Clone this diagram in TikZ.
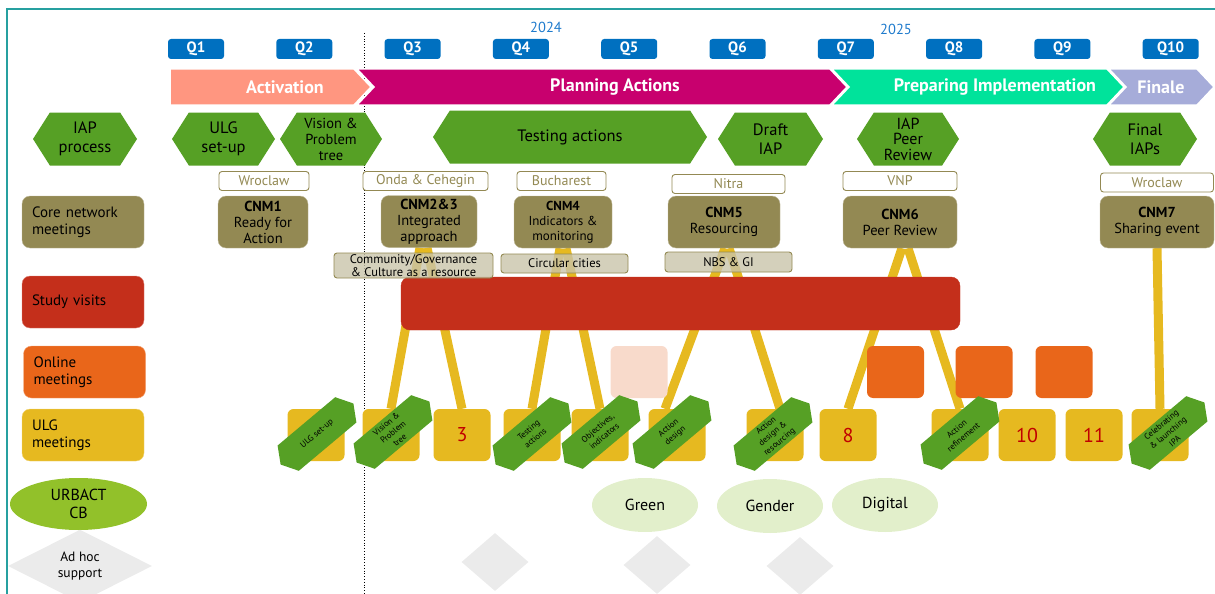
\documentclass[tikz,border=0pt]{standalone}
\usepackage{fontspec}
\setmainfont{PT Sans}
\usetikzlibrary{shapes.symbols,shapes.geometric}

\definecolor{frameteal}{RGB}{38,160,160}
\definecolor{qblue}{RGB}{0,112,192}
\definecolor{yearblue}{RGB}{30,122,204}
\definecolor{actpink}{RGB}{255,150,128}
\definecolor{planmag}{RGB}{200,0,110}
\definecolor{prepgreen}{RGB}{0,227,155}
\definecolor{finlav}{RGB}{166,172,217}
\definecolor{hexgreen}{RGB}{86,160,37}
\definecolor{cnmolive}{RGB}{147,137,83}
\definecolor{themekhaki}{RGB}{201,196,170}
\definecolor{visitred}{RGB}{196,47,27}
\definecolor{onlineorange}{RGB}{233,102,26}
\definecolor{onlinepeach}{RGB}{248,218,203}
\definecolor{ulgyellow}{RGB}{230,185,32}
\definecolor{numred}{RGB}{192,0,0}
\definecolor{urbgreen}{RGB}{146,193,42}
\definecolor{cbgreen}{RGB}{226,239,203}
\definecolor{adhocgrey}{RGB}{235,235,235}

\newcommand{\tfs}[2]{\fontsize{#1}{#2}\selectfont}

\pgfdeclarelayer{back}
\pgfsetlayers{back,main}

\tikzset{
  qbox/.style={fill=qblue,rounded corners=3pt,minimum width=56pt,minimum height=20pt,
    inner sep=0pt,text=white,font=\bfseries\tfs{15}{15}},
  year/.style={text=yearblue,inner sep=0pt,font=\tfs{14.5}{14.5}},
  phase/.style={text=white,inner sep=0pt,font=\bfseries\tfs{18}{18}},
  hexa/.style={signal,signal to=east and west,signal pointer angle=115,fill=hexgreen,
    minimum height=53pt,inner sep=0pt,align=center,font=\tfs{16.5}{19}},
  city/.style={draw=cnmolive,line width=0.9pt,fill=white,rounded corners=3pt,text=cnmolive,
    minimum height=19pt,inner sep=0pt,font=\tfs{14}{14}},
  cnm/.style={fill=cnmolive,draw=cnmolive!60!white,rounded corners=8pt,minimum height=52pt,
    inner sep=0pt,align=center,font=\tfs{14.5}{16}},
  theme/.style={draw=cnmolive,line width=0.9pt,fill=themekhaki,fill opacity=0.8,text opacity=1,
    rounded corners=3pt,inner sep=0pt,align=center,font=\tfs{12.5}{12.5}},
  rowlab/.style={rounded corners=8pt,minimum width=122pt,minimum height=52pt,text width=102pt,
    align=left,inner sep=0pt,font=\tfs{15}{16.5}},
  ulgbox/.style={fill=ulgyellow,rounded corners=6pt,minimum width=57pt,minimum height=52pt,
    inner sep=0pt,text=numred,font=\tfs{20}{20}},
  tag/.style={signal,signal to=east and west,signal pointer angle=118,fill=hexgreen,
    minimum width=95pt,minimum height=33pt,inner sep=1pt,rotate=40,align=center,
    font=\tfs{8.5}{10.5}},
  ulgline/.style={ulgyellow,line width=9pt},
  meetbox/.style={rounded corners=6pt,minimum width=57pt,minimum height=52pt,inner sep=0pt},
  cbell/.style={ellipse,fill=cbgreen,minimum width=106pt,minimum height=54pt,inner sep=0pt,
    font=\tfs{16}{16}},
  adhoc/.style={diamond,fill=adhocgrey,inner sep=0pt,minimum width=67pt,minimum height=58pt}
}

\begin{document}
\begin{tikzpicture}[x=1pt,y=-1pt]
\useasboundingbox (0,0) rectangle (1215,594);
%% frame and year split
\draw[frameteal,line width=2pt] (7,594) -- (7,9) -- (1215,9);
\draw[dotted,line width=0.8pt] (364,33) -- (364,594);

\node[year] (y24) at (546,27) {2024};
\node[year] (y25) at (896,29) {2025};
\foreach \i in {1,...,10}
  \node[qbox] (q\i) at ({196+108.3*(\i-1)},49) {Q\i};

%% phases
\filldraw[fill=actpink,draw=white,line width=1.5pt] (170,69) -- (354,69) -- (371,87) -- (354,105) -- (170,105) -- cycle;
\filldraw[fill=planmag,draw=white,line width=1.5pt] (357,69) -- (830,69) -- (847,87) -- (830,105) -- (357,105) -- (374,87) -- cycle;
\filldraw[fill=prepgreen,draw=white,line width=1.5pt] (832,69) -- (1107,69) -- (1124,87) -- (1107,105) -- (832,105) -- (849,87) -- cycle;
\filldraw[fill=finlav,draw=white,line width=1.5pt] (1109,69) -- (1197,69) -- (1214,87) -- (1197,105) -- (1109,105) -- (1126,87) -- cycle;
\node[phase] (actv) at (285,87) {Activation};
\node[phase] (plan) at (615,87) {Planning Actions};
\node[phase] (prep) at (995,87) {Preparing Implementation};
\node[phase] (fin) at (1161,87) {Finale};

%% IAP process
\node[hexa,minimum width=104pt] (iap) at (85,139) {IAP\\process};
\node[hexa,minimum width=103pt] (setup) at (223.5,139) {ULG\\set-up};
\node[hexa,minimum width=102pt,font=\tfs{14.5}{16}] (vision) at (331,139) {Vision \&\\Problem\\tree};
\node[hexa,minimum width=274pt] (testing) at (570,137) {Testing actions};
\node[hexa,minimum width=105pt] (draft) at (770.5,139) {Draft\\IAP};
\node[hexa,minimum width=102pt,font=\tfs{16}{15.5}] (peer) at (908,139) {IAP\\Peer\\Review};
\node[hexa,minimum width=104pt] (final) at (1145,139) {Final\\IAPs};

%% core network meetings
\node[city,minimum width=90pt] (wro1) at (264,181) {Wroclaw};
\node[city,minimum width=125pt] (onda) at (425.5,181) {Onda \& Cehegin};
\node[city,minimum width=89pt] (buch) at (561.5,181) {Bucharest};
\node[city,minimum width=113pt] (nitra) at (728.5,184) {Nitra};
\node[city,minimum width=114pt] (vnp) at (900,181) {VNP};
\node[city,minimum width=113pt] (wro2) at (1157,182.5) {Wroclaw};

\node[rowlab,fill=cnmolive,draw=cnmolive!60!white] (corelab) at (83,222) {Core network\\meetings};
\node[cnm,minimum width=90pt] (cnm1) at (263,222) {\textbf{CNM1}\\Ready for\\Action};
\node[cnm,minimum width=96pt] (cnm23) at (429,221.5) {\textbf{CNM2\&3}\\Integrated\\approach};
\node[cnm,minimum width=98pt,font=\tfs{13}{15}] (cnm4) at (563,222) {\textbf{CNM4}\\Indicators \&\\monitoring};
\node[cnm,minimum width=112pt] (cnm5) at (724,222) {\textbf{CNM5}\\Resourcing};
\node[cnm,minimum width=114pt] (cnm6) at (900,222) {\textbf{CNM6}\\Peer Review};
\node[cnm,minimum width=114pt] (cnm7) at (1157,222) {\textbf{CNM7}\\Sharing event};

%% study visits
\node[rowlab,fill=visitred,draw=visitred!60!white] (visitlab) at (83,302) {Study visits};
\filldraw[fill=visitred,draw=visitred,rounded corners=9pt] (401,277) rectangle (960,330);
\node[inner sep=0pt] (visitbar) at (680.5,303.5) {};

\node[theme,minimum width=159pt,minimum height=25pt] (thcomm) at (413.5,265.5) {Community/Governance\\\& Culture as a resource};
\node[theme,minimum width=127pt,minimum height=19pt] (thcirc) at (564.5,263.5) {Circular cities};
\node[theme,minimum width=127pt,minimum height=20pt] (thnbs) at (728.5,262) {NBS \& GI};

%% online meetings
\node[rowlab,fill=onlineorange,draw=onlineorange!60!white] (onlab) at (84.5,372) {Online\\meetings};
\node[meetbox,fill=onlinepeach] (on1) at (639,372) {};
\node[meetbox,fill=onlineorange] (on2) at (895.5,372) {};
\node[meetbox,fill=onlineorange] (on3) at (984,372) {};
\node[meetbox,fill=onlineorange] (on4) at (1064,372) {};

%% ULG meetings
\node[rowlab,fill=ulgyellow,draw=ulgyellow!60!white] (ulglab) at (83,435) {ULG\\meetings};
\foreach \x/\n [count=\k] in {316/,391/,462/3,532/,600/,677/,775/,848/8,960/,1027/10,1094/11,1160/}
  \node[ulgbox] (u\k) at (\x,435) {\n};

\begin{pgfonlayer}{back}
\draw[ulgline] ([xshift=-9pt]cnm23.south) -- (u2.north);
\draw[ulgline] ([xshift=-2pt]cnm23.south) -- (u3.north);
\draw[ulgline] ([xshift=-3pt]cnm4.south) -- (u4.north);
\draw[ulgline] ([xshift=3pt]cnm4.south) -- (u5.north);
\draw[ulgline] ([xshift=1pt]cnm5.south) -- ([xshift=-12pt]u6.north);
\draw[ulgline] ([xshift=5pt]cnm5.south) -- ([xshift=5pt]u7.north);
\draw[ulgline] ([xshift=2pt]cnm6.south) -- (u8.north);
\draw[ulgline] ([xshift=8pt]cnm6.south) -- (u9.north);
\draw[ulgline] (cnm7.south) -- (u12.north);
\end{pgfonlayer}

\node[tag] (t1) at (317,434) {ULG set-up};
\node[tag] (t2) at (393,432) {Vision \&\\Problem\\tree};
\node[tag] (t4) at (532,434) {Testing\\actions};
\node[tag] (t5) at (601,432) {Objectives,\\indicators};
\node[tag] (t6) at (672,432) {Action\\design};
\node[tag] (t7) at (773,434) {Action\\design \&\\resourcing};
\node[tag] (t9) at (960,433) {Action\\refinement};
\node[tag] (t12) at (1168,433) {Celebrating\\\& launching\\IPA};

%% capacity building
\node[ellipse,fill=urbgreen,minimum width=137pt,minimum height=52pt,inner sep=0pt,
  align=center,font=\tfs{16}{18}] (urbact) at (78.5,504) {URBACT\\CB};
\node[cbell] (green) at (645,505) {Green};
\node[cbell] (gender) at (770,506) {Gender};
\node[cbell] (digital) at (885,505) {Digital};

%% ad hoc support
\node[adhoc,minimum width=144pt,minimum height=64pt,align=center,font=\tfs{13.5}{16}] (adhoclab) at (80,566) {Ad hoc\\support};
\node[adhoc] (ah1) at (495,562) {};
\node[adhoc] (ah2) at (657,565) {};
\node[adhoc] (ah3) at (800,566) {};
\end{tikzpicture}
\end{document}
